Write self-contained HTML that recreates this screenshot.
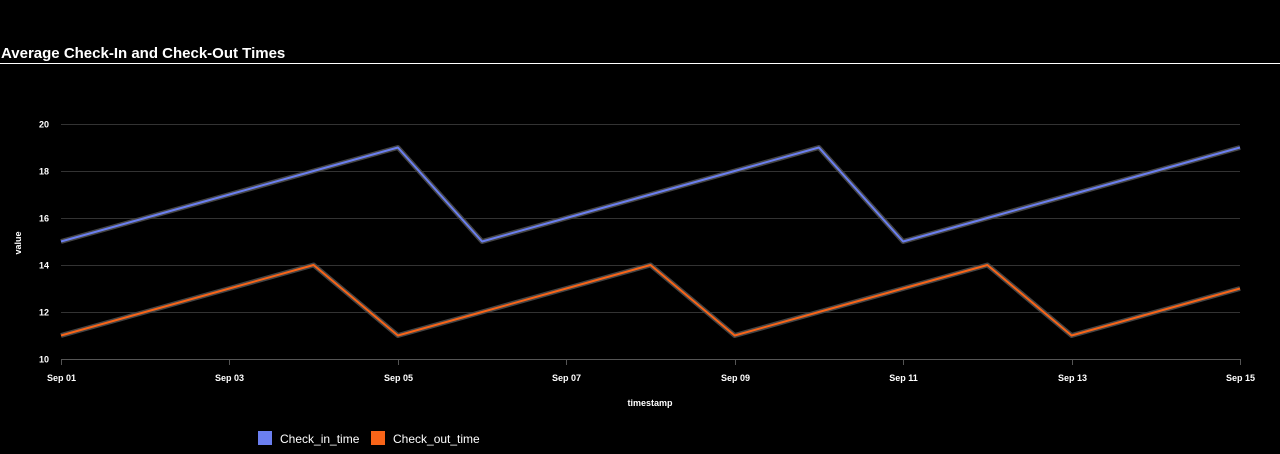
<!DOCTYPE html>
<html><head><meta charset="utf-8"><style>
html,body{margin:0;padding:0;background:#000;width:1280px;height:454px;overflow:hidden;font-family:"Liberation Sans",sans-serif;}
</style></head><body>
<svg id="chart" width="1280" height="454" xmlns="http://www.w3.org/2000/svg">
<text x="1" y="58" fill="#fff" font-size="15" font-weight="bold">Average Check-In and Check-Out Times</text>
<line x1="0" y1="63.5" x2="1280" y2="63.5" stroke="#fff" stroke-width="1"/>
<g id="grid"></g><g id="lines"></g><g id="axes"></g>
<text transform="translate(21,243) rotate(-90)" text-anchor="middle" fill="#fff" font-size="9" font-weight="bold">value</text>
<text x="650" y="406" text-anchor="middle" fill="#fff" font-size="9" font-weight="bold">timestamp</text>
<rect x="258" y="431" width="14" height="14" fill="#6b7ff0"/>
<text x="280" y="443" fill="#fff" font-size="12">Check_in_time</text>
<rect x="371" y="431" width="14" height="14" fill="#f86418"/>
<text x="393" y="443" fill="#fff" font-size="12">Check_out_time</text>
</svg>
<script>
const days = [1,2,3,4,5,6,7,8,9,10,11,12,13,14,15];
const checkIn = [15,16,17,18,19,15,16,17,18,19,15,16,17,18,19];
const checkOut = [11,12,13,14,11,12,13,14,11,12,13,14,11,12,13];
const yTicks = [10,12,14,16,18,20];
const xTickDays = [1,3,5,7,9,11,13,15];
const xTickLabels = ["Sep 01","Sep 03","Sep 05","Sep 07","Sep 09","Sep 11","Sep 13","Sep 15"];
const NS="http://www.w3.org/2000/svg";
const X0=61,X1=1240,Y0=359,Y1=124;
const xs=d=>X0+(d-1)/(15-1)*(X1-X0);
const ys=v=>Y0-(v-10)/(20-10)*(Y0-Y1);
function mk(tag,attrs,parent){const e=document.createElementNS(NS,tag);for(const k in attrs)e.setAttribute(k,attrs[k]);parent.appendChild(e);return e;}
const grid=document.getElementById('grid'),axes=document.getElementById('axes'),lines=document.getElementById('lines');
yTicks.forEach(v=>{
  const y=Math.round(ys(v))+0.5;
  const l=mk('line',{x1:X0,x2:X1,y1:y,y2:y,stroke:v===10?'#555':'#333','stroke-width':1},grid);
  
  
  const t=mk('text',{x:49,y:y+3,'text-anchor':'end',fill:'#fff','font-size':9,'font-weight':'bold'},axes);
  t.textContent=v;
  
  
});
xTickDays.forEach((d,i)=>{
  const x=Math.round(xs(d))+0.5;
  const l=mk('line',{x1:x,x2:x,y1:Y0,y2:Y0+6,stroke:'#555','stroke-width':1},axes);
  
  
  const t=mk('text',{x:x,y:381,'text-anchor':'middle',fill:'#fff','font-size':9,'font-weight':'bold'},axes);
  t.textContent=xTickLabels[i];
  
  
});
function series(vals,color,name){
  const pts=days.map((d,i)=>xs(d).toFixed(1)+','+ys(vals[i]).toFixed(1)).join(' ');
  const s=mk('polyline',{points:pts,fill:'none',stroke:'#444','stroke-width':5,'stroke-linejoin':'round'},lines);
  
  
  const p=mk('polyline',{points:pts,fill:'none',stroke:color,'stroke-width':2,'stroke-linejoin':'round'},lines);
  
  
}
series(checkIn,'#6b7ff0','check-in');
series(checkOut,'#f86418','check-out');
</script>
</body></html>
